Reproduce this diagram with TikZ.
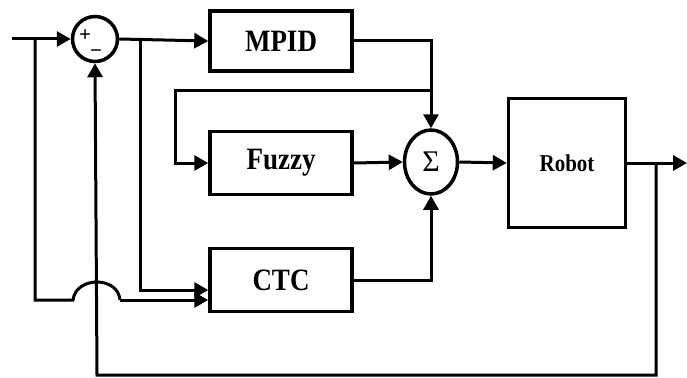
\documentclass[tikz,border=0pt]{standalone}
\usepackage{fontspec}
\setmainfont{Liberation Serif}
\usetikzlibrary{arrows.meta,shapes.geometric}
\newcommand{\tall}[1]{\scalebox{1}[1.15]{#1}}
\tikzset{
  block/.style={draw,line width=3.5pt,minimum width=142pt,inner sep=0pt,font=\fontsize{27}{30}\selectfont\bfseries},
  sign/.style={inner sep=0pt,font=\fontsize{21}{21}\selectfont\bfseries},
  link/.style={line width=3pt},
  arr/.style={link,-{Triangle[length=14pt,width=15pt]}},
}
\begin{document}
\begin{tikzpicture}[x=1pt,y=-1pt]
\useasboundingbox (0,0) rectangle (687,377);
\node[draw,circle,line width=3.5pt,minimum size=45pt,inner sep=0pt] (sub) at (95,39) {};
\node[sign] (plus) at (85,36) {+};
\node[sign] (minus) at (96,54) {\textminus};
\node[block,minimum height=60pt] (mpid) at (281,41) {\tall{MPID}};
\node[block,minimum height=63pt] (fuzzy) at (281,163) {\tall{Fuzzy}};
\node[block,minimum height=63pt] (ctc) at (281,280) {\tall{CTC}};
\node[draw,ellipse,line width=3.5pt,minimum width=53pt,minimum height=64pt,inner sep=0pt,font=\fontsize{30}{30}\selectfont] (sum) at (431,162) {Σ};
\node[block,minimum width=117pt,minimum height=129pt,font=\fontsize{21}{24}\selectfont\bfseries] (robot) at (567,163) {\tall{Robot}};
\coordinate (in) at (12,39);
\coordinate (out) at (687,163);
\coordinate (ref) at (35,39);
\coordinate (err) at (140,39);
\coordinate (loop) at (175,91);
\coordinate (meas) at (656,163);
\draw[arr] (in) -- (sub.west);
\draw[arr] (sub.east) -- (mpid.west);
\draw[arr] (err) |- ([yshift=-10]ctc.west);
\draw[link] (ref) |- (73,300) .. controls (76,276) and (118,276) .. (120,300);
\draw[arr] (120,300) -- (ctc.west |- 0,300);
\draw[arr] (mpid.east) -| (sum.north);
\draw[arr] (sum.north |- loop) -- (loop) |- (fuzzy.west);
\draw[arr] (fuzzy.east) -- (sum.west);
\draw[arr] (ctc.east) -| (sum.south);
\draw[arr] (sum.east) -- (robot.west);
\draw[arr] (robot.east) -- (out);
\draw[arr] (meas) |- (97,375) -- (sub.south);
\end{tikzpicture}
\end{document}
